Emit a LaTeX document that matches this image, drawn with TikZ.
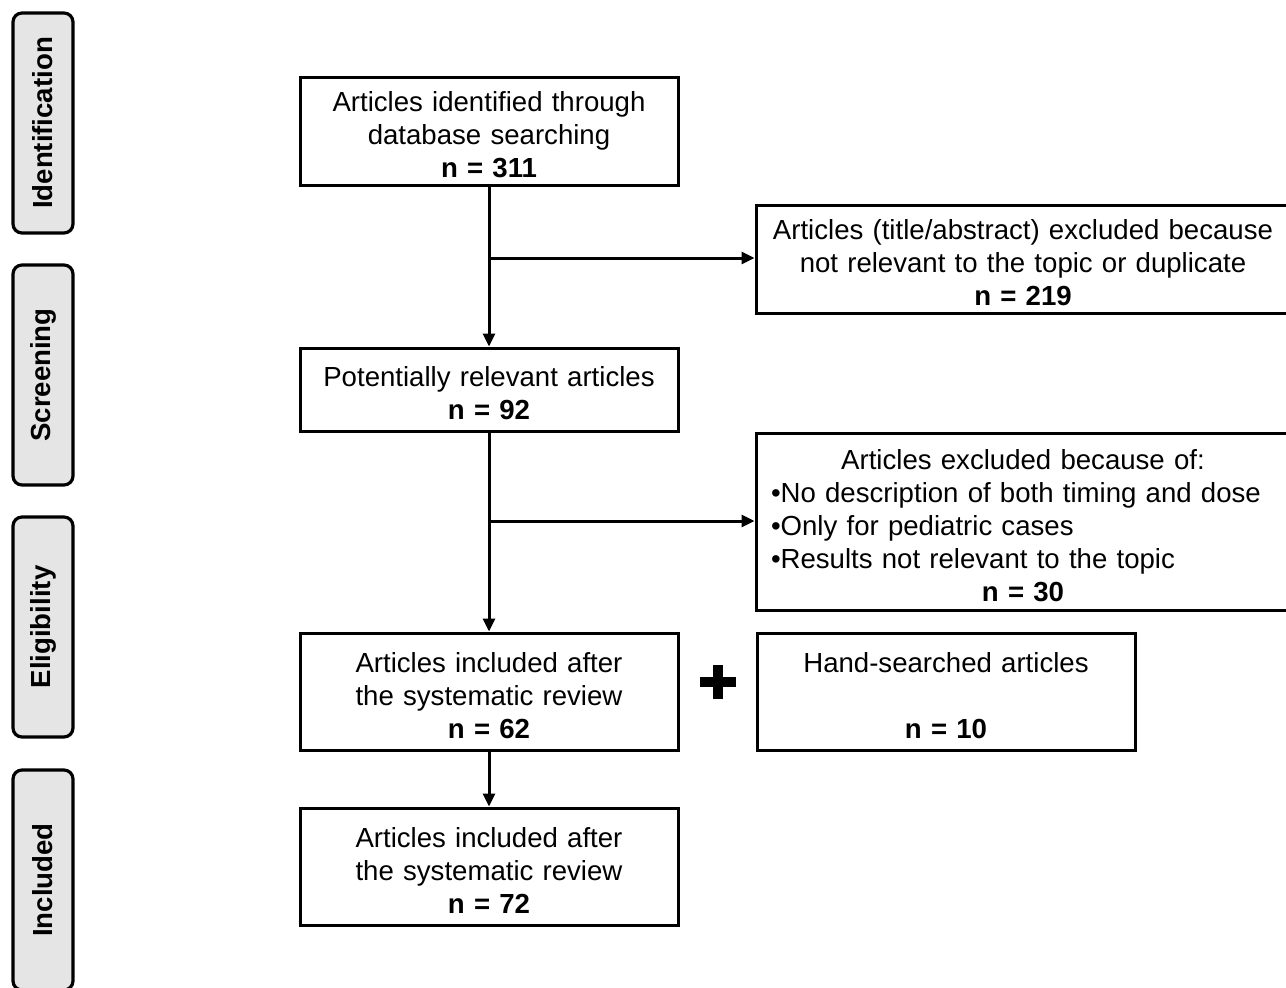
\documentclass[tikz,border=0pt]{standalone}
\usepackage{fontspec}
\setmainfont{Liberation Sans}
\usetikzlibrary{arrows.meta}
\begin{document}
\begin{tikzpicture}[x=1pt,y=-1pt,
  every node/.style={font=\fontsize{27.6}{33}\selectfont},
  box/.style={draw=black,line width=3pt,fill=white,align=center,inner sep=0pt,
    execute at begin node={\rule{0pt}{28pt}}},
  mainbox/.style={box,minimum width=378pt,text width=370pt},
  widebox/.style={box,minimum width=534pt,text width=510pt},
  phase/.style={draw=black,line width=3.2pt,fill=black!10,rounded corners=9pt,
    rotate=90,minimum width=220pt,minimum height=60pt,inner sep=0pt,
    font=\fontsize{27.6}{33}\selectfont\bfseries},
  conn/.style={line width=3pt,-{Triangle[length=13pt,width=12pt]}}]
\useasboundingbox (0,0) rectangle (1286,988);
\fill[white] (0,0) rectangle (1286,988);

% phase labels
\node[phase] (pid) at (43,123) {Identification};
\node[phase] (psc) at (43,375) {Screening};
\node[phase] (pel) at (43,627) {Eligibility};
\node[phase] (pin) at (43,880) {Included};

% main boxes
\node[mainbox,minimum height=108pt] (A) at (489,131)
  {Articles identified through\\database searching\\\textbf{n = 311}};
\node[widebox,minimum height=108pt] (E1) at (1023,259)
  {Articles (title/abstract) excluded because\\not relevant to the topic or duplicate\\\textbf{n = 219}};
\node[mainbox,minimum height=83pt] (B) at (489,389.5)
  {Potentially relevant articles\\\textbf{n = 92}};
\node[widebox,minimum height=177pt,align=left,text width=504pt] (E2) at (1023,521.5)
  {\makebox[\linewidth][c]{Articles excluded because of:}\\
   •No description of both timing and dose\\
   •Only for pediatric cases\\
   •Results not relevant to the topic\\
   \makebox[\linewidth][c]{\textbf{n = 30}}};
\node[mainbox,minimum height=117pt] (C) at (489,691.5)
  {Articles included after\\the systematic review\\\textbf{n = 62}};
\node[mainbox,minimum height=117pt] (H) at (946,691.5)
  {Hand-searched articles\\[33pt]\textbf{n = 10}};
\node[mainbox,minimum height=117pt] (D) at (489,866.5)
  {Articles included after\\the systematic review\\\textbf{n = 72}};

% plus sign
\coordinate (plus) at (718,682);
\fill ([xshift=-18pt,yshift=-5pt]plus) rectangle ([xshift=18pt,yshift=5pt]plus);
\fill ([xshift=-5pt,yshift=-17pt]plus) rectangle ([xshift=5pt,yshift=17pt]plus);

% connectors
\coordinate (j1) at (489,258);
\coordinate (j2) at (489,521);
\draw[conn] (A.south) -- (B.north);
\draw[conn] (j1) -- (j1 -| E1.west);
\draw[conn] (B.south) -- (C.north);
\draw[conn] (j2) -- (j2 -| E2.west);
\draw[conn] (C.south) -- (D.north);
\end{tikzpicture}
\end{document}
